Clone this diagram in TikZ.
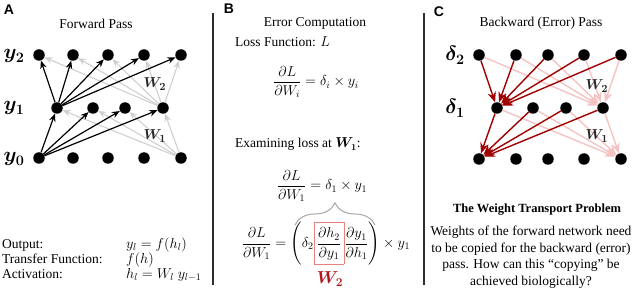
\documentclass[tikz,border=0pt]{standalone}
\usepackage{amsmath}
\usepackage{bm}
\usepackage[no-math]{fontspec}
\setmainfont{Liberation Serif}
\newfontfamily\panelfont{Liberation Sans}
\usetikzlibrary{arrows.meta,decorations.pathreplacing}
\definecolor{lgray}{RGB}{208,208,208}
\definecolor{dred}{RGB}{160,0,0}
\definecolor{pinkr}{RGB}{244,196,196}
\definecolor{boxred}{RGB}{230,130,128}
\definecolor{wred}{RGB}{178,20,25}
\definecolor{divider}{RGB}{45,45,45}
\begin{document}
\begin{tikzpicture}[x=1pt,y=-1pt,
  neuron/.style={circle,fill=black,inner sep=0pt,minimum size=11.5pt},
  fwd/.style={-{Stealth[length=8pt,width=6.5pt]},line width=1.2pt,black},
  fwdgray/.style={-{Stealth[length=8pt,width=6.5pt]},line width=1.1pt,lgray},
  bwd/.style={-{Stealth[length=10.5pt,width=8.5pt]},line width=1.4pt,dred},
  bwdpink/.style={-{Stealth[length=10.5pt,width=8.5pt]},line width=1.4pt,pinkr},
  txt/.style={font=\fontsize{13.5}{16}\selectfont,inner sep=0pt},
  mth/.style={font=\fontsize{14}{17}\selectfont,inner sep=0pt},
  panel/.style={font=\panelfont\bfseries\fontsize{14}{16}\selectfont,inner sep=0pt},
  lbl/.style={font=\fontsize{20}{24}\selectfont,inner sep=0pt},
  wlbl/.style={font=\fontsize{15}{18}\selectfont,inner sep=0pt,text=black!85},
  divline/.style={line width=1.2pt,divider},
  bracestyle/.style={decorate,decoration={brace,amplitude=22pt},line width=1pt,black!35}
]
\useasboundingbox (0,0) rectangle (640,291);

% ---------- Panel A ----------
\node[panel] (pA) at (9,10) {A};
\node[txt,anchor=base] (tA) at (96,29) {Forward Pass};
\foreach \i/\x in {1/39,2/73,3/108,4/144,5/181}{
  \node[neuron] (a2\i) at (\x,55) {};
  \node[neuron] (a0\i) at (\x,158) {};
}
\foreach \i/\x in {1/57,2/93,3/125,4/163}
  \node[neuron] (a1\i) at (\x,108) {};
\foreach \j in {1,...,5} \draw[fwdgray] (a14) -- (a2\j);
\foreach \j in {1,...,4} \draw[fwdgray] (a05) -- (a1\j);
\foreach \j in {1,...,5} \draw[fwd] (a11) -- (a2\j);
\foreach \j in {1,...,4} \draw[fwd] (a01) -- (a1\j);
\node[lbl,anchor=base] (ly2) at (14,59) {$\bm{y_2}$};
\node[lbl,anchor=base] (ly1) at (14,111) {$\bm{y_1}$};
\node[lbl,anchor=base] (ly0) at (14,162) {$\bm{y_0}$};
\node[wlbl] (aw2) at (155,84) {$\bm{W_2}$};
\node[wlbl] (aw1) at (155,136) {$\bm{W_1}$};

\node[txt,anchor=base west] (out) at (2,248) {Output:};
\node[txt,anchor=base west] (tf) at (2,263) {Transfer Function:};
\node[txt,anchor=base west] (act) at (2,278) {Activation:};
\node[mth,anchor=base west] (outm) at (126,248) {$y_l = f(h_l)$};
\node[mth,anchor=base west] (tfm) at (126,263) {$f(h)$};
\node[mth,anchor=base west] (actm) at (126,278) {$h_l = W_l\; y_{l-1}$};

% ---------- dividers ----------
\draw[divline] (213,13) -- (213,285);
\draw[divline] (424,13) -- (424,285);

% ---------- Panel B ----------
\node[panel] (pB) at (229,9) {B};
\node[txt,anchor=base] (tB) at (315,27) {Error Computation};
\node[txt,anchor=base west] (loss) at (235,47) {Loss Function: $L$};
\node[mth] (eq1) at (316,82) {$\displaystyle \frac{\partial L}{\partial W_i} = \delta_i \times y_i$};
\node[txt,anchor=base west] (exam) at (235,148) {Examining loss at $\bm{W_1}$:};
\node[mth] (eq2) at (322,186) {$\displaystyle \frac{\partial L}{\partial W_1} = \delta_1 \times y_1$};
\setlength{\fboxsep}{2.5pt}\setlength{\fboxrule}{0.8pt}
\node[mth] (eq3) at (326,244) {$\displaystyle \frac{\partial L}{\partial W_1} = \Biggl(\delta_2
  \vphantom{\frac{\partial h_2}{\partial y_1}}\smash{\fcolorbox{boxred}{white}{\rule[-13.7pt]{0pt}{36.4pt}$\displaystyle\frac{\partial h_2}{\partial y_1}$}}
  \frac{\partial y_1}{\partial h_1}\Biggr) \times y_1$};
\draw[bracestyle] (295,225) -- (375,225);
\node[font=\fontsize{17}{20}\selectfont,inner sep=0pt,text=wred] (w2red) at (330,279) {$\bm{W_2}$};

% ---------- Panel C ----------
\node[panel] (pC) at (439,12) {C};
\node[txt,anchor=base] (tC) at (541,27) {Backward (Error) Pass};
\foreach \i/\x in {1/479,2/516,3/548,4/584,5/621}{
  \node[neuron] (c2\i) at (\x,55) {};
  \node[neuron] (c0\i) at (\x,159) {};
}
\foreach \i/\x in {1/497,2/533,3/566,4/603}
  \node[neuron] (c1\i) at (\x,108) {};
\foreach \j in {1,...,5} \draw[bwdpink] (c2\j) -- (c14);
\foreach \j in {1,...,4} \draw[bwdpink] (c1\j) -- (c05);
\foreach \j in {1,...,5} \draw[bwd] (c2\j) -- (c11);
\foreach \j in {1,...,4} \draw[bwd] (c1\j) -- (c01);
\node[lbl,anchor=base] (ld2) at (455,61) {$\bm{\delta_2}$};
\node[lbl,anchor=base] (ld1) at (455,114) {$\bm{\delta_1}$};
\node[wlbl] (cw2) at (597,86) {$\bm{W_2}$};
\node[wlbl] (cw1) at (597,136) {$\bm{W_1}$};

\node[font=\bfseries\fontsize{12.5}{15}\selectfont,inner sep=0pt,anchor=base] (wtp) at (537,213) {The Weight Transport Problem};
\node[txt,anchor=base] (l1) at (531,236) {Weights of the forward network need};
\node[txt,anchor=base] (l2) at (531,252) {to be copied for the backward (error)};
\node[txt,anchor=base] (l3) at (531,269) {pass. How can this “copying” be};
\node[txt,anchor=base] (l4) at (531,285) {achieved biologically?};
\end{tikzpicture}
\end{document}
